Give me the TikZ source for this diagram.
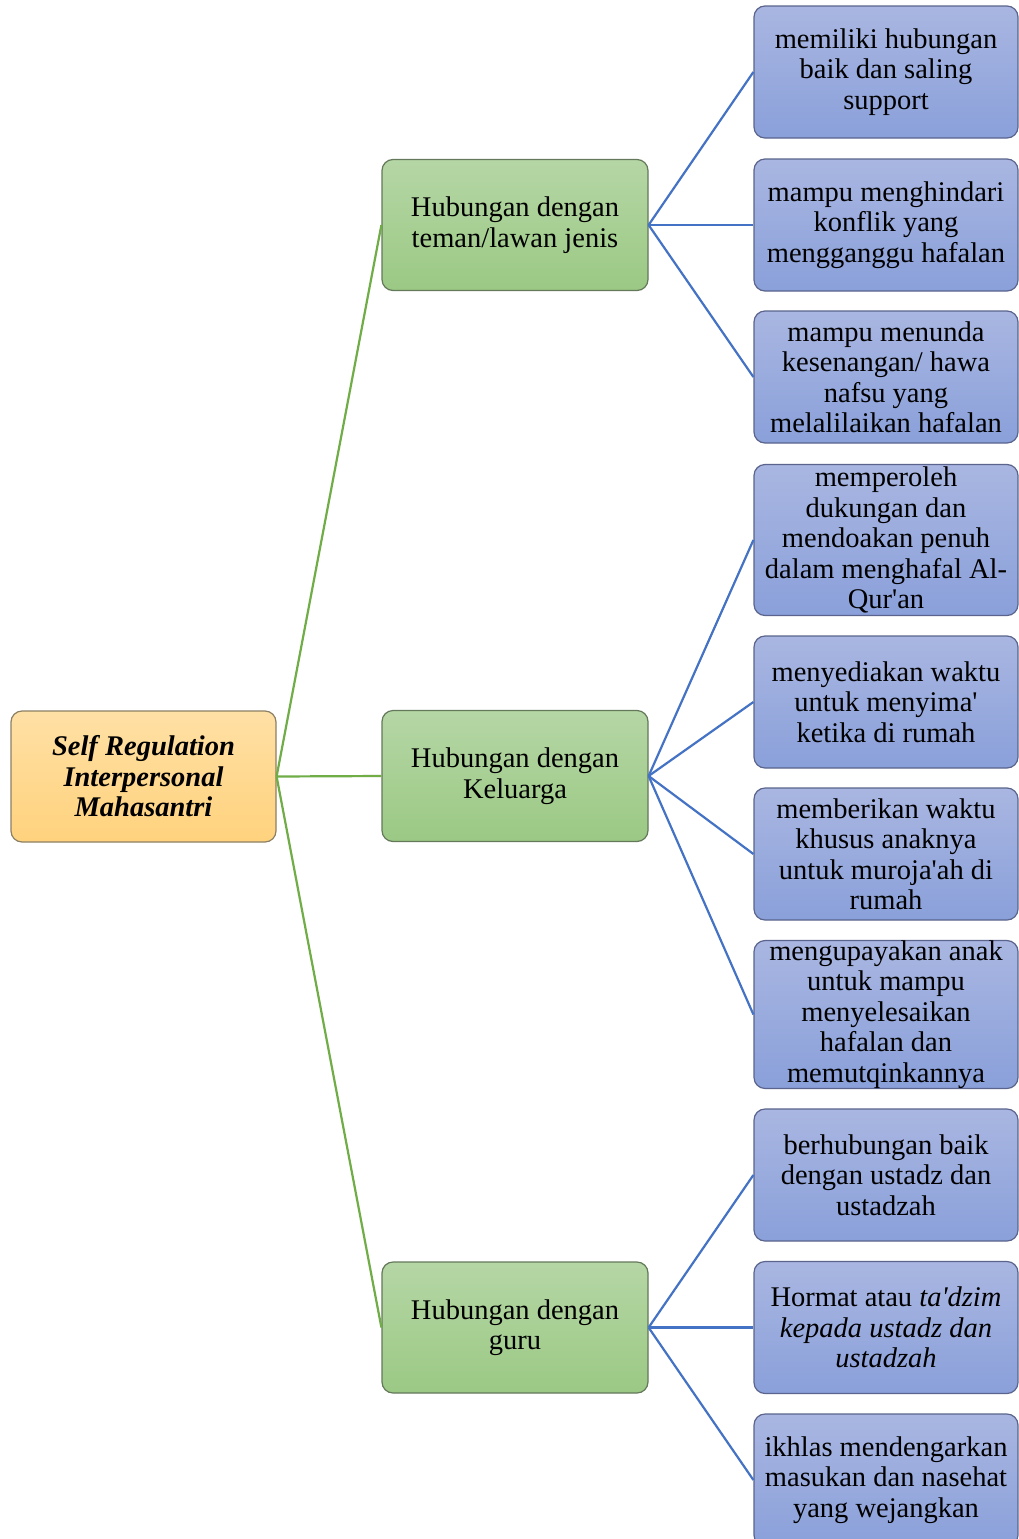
\documentclass[tikz,border=0pt]{standalone}
\usepackage{fontspec}
\setmainfont{Liberation Serif}[Ligatures=TeXOff]
\begin{document}
\begin{tikzpicture}[x=1pt,y=-1pt,
  base/.style={rectangle,rounded corners=11pt,line width=1.2pt,align=center,
    inner sep=0pt,font=\fontsize{28.5}{30.5}\selectfont},
  rootbox/.style={base,draw={rgb,255:red,140;green,128;blue,100},
    top color={rgb,255:red,255;green,224;blue,165},bottom color={rgb,255:red,255;green,210;blue,125},
    minimum width=265pt,minimum height=131pt},
  greenbox/.style={base,draw={rgb,255:red,100;green,120;blue,90},
    top color={rgb,255:red,181;green,214;blue,165},bottom color={rgb,255:red,155;green,201;blue,132},
    minimum width=266pt,minimum height=131pt},
  bluebox/.style={base,draw={rgb,255:red,90;green,100;blue,140},
    top color={rgb,255:red,169;green,182;blue,225},bottom color={rgb,255:red,138;green,160;blue,218},
    minimum width=264pt},
  gline/.style={draw={rgb,255:red,112;green,173;blue,71},line width=2.2pt},
  bline/.style={draw={rgb,255:red,68;green,114;blue,196},line width=2.2pt}
]
\clip (0,0) rectangle (1019,1539);
\fill[white] (0,0) rectangle (1019,1539);

\node[rootbox] (root) at (143.5,776.5) {\bfseries\itshape Self Regulation\\\bfseries\itshape Interpersonal\\\bfseries\itshape Mahasantri};

\node[greenbox] (g1) at (515,225) {Hubungan dengan\\teman/lawan jenis};
\node[greenbox] (g2) at (515,776) {Hubungan dengan\\Keluarga};
\node[greenbox] (g3) at (515,1327.5) {Hubungan dengan\\guru};

\node[bluebox,minimum height=132pt] (b1) at (886,72) {memiliki hubungan\\baik dan saling\\support};
\node[bluebox,minimum height=132pt] (b2) at (886,225) {mampu menghindari\\konflik yang\\mengganggu hafalan};
\node[bluebox,minimum height=132pt] (b3) at (886,377) {mampu menunda\\kesenangan/ hawa\\nafsu yang\\melalilaikan hafalan};
\node[bluebox,minimum height=151pt] (b4) at (886,540) {memperoleh\\dukungan dan\\mendoakan penuh\\dalam menghafal Al-\\Qur'an};
\node[bluebox,minimum height=132pt] (b5) at (886,702) {menyediakan waktu\\untuk menyima'\\ketika di rumah};
\node[bluebox,minimum height=132pt] (b6) at (886,854) {memberikan waktu\\khusus anaknya\\untuk muroja'ah di\\rumah};
\node[bluebox,minimum height=147pt] (b7) at (886,1014.5) {mengupayakan anak\\untuk mampu\\menyelesaikan\\hafalan dan\\memutqinkannya};
\node[bluebox,minimum height=132pt] (b8) at (886,1175) {berhubungan baik\\dengan ustadz dan\\ustadzah};
\node[bluebox,minimum height=132pt] (b9) at (886,1327.5) {Hormat atau \textit{ta'dzim}\\\textit{kepada ustadz dan}\\\textit{ustadzah}};
\node[bluebox,minimum height=132pt] (b10) at (886,1480) {ikhlas mendengarkan\\masukan dan nasehat\\yang wejangkan};

\foreach \g in {g1,g2,g3} \draw[gline] (root.east) -- (\g.west);
\foreach \b in {b1,b2,b3} \draw[bline] (g1.east) -- (\b.west);
\foreach \b in {b4,b5,b6,b7} \draw[bline] (g2.east) -- (\b.west);
\foreach \b in {b8,b9,b10} \draw[bline] (g3.east) -- (\b.west);
\end{tikzpicture}
\end{document}
